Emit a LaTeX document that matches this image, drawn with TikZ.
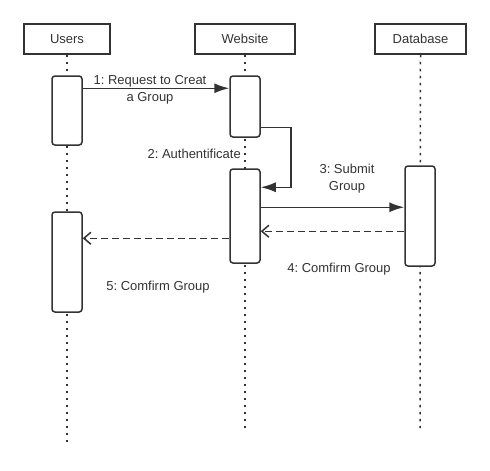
\documentclass[tikz,border=0pt]{standalone}
\usepackage{fontspec}
\setmainfont{Liberation Sans}
\usetikzlibrary{arrows.meta}
\definecolor{ink}{HTML}{333333}
\frenchspacing
\tikzset{
  head/.style={draw=ink, line width=1.5pt, minimum height=30pt, inner sep=0pt, text=ink, font=\fontsize{13}{15}\selectfont},
  act/.style={draw=ink, line width=1.5pt, fill=white, rounded corners=3pt, minimum width=30pt, inner sep=0pt},
  life/.style={draw=ink, line width=1.5pt, dash pattern=on 2.5pt off 4.5pt},
  msg/.style={draw=ink, line width=1.5pt, -{Latex[length=15pt,width=10pt]}},
  reply/.style={draw=ink, line width=1.5pt, dash pattern=on 7pt off 4pt, -{Straight Barb[length=7pt,width=12pt]}},
  lbl/.style={text=ink, align=center, inner sep=0pt, font=\fontsize{13}{16.5}\selectfont}
}
\begin{document}
\begin{tikzpicture}[x=1pt, y=-1pt]
\useasboundingbox (0,0) rectangle (490,471);
%heads
\node[head, minimum width=86pt] (users) at (67,39) {Users};
\node[head, minimum width=100pt] (web) at (245,39) {Website};
\node[head, minimum width=91pt] (db) at (420.5,39) {Database};
%lifelines
\coordinate (uend) at (67,442);
\coordinate (wend) at (245,428);
\coordinate (dend) at (420,428);
\draw[life] (users.south) -- (uend);
\draw[life] (web.south) -- (wend);
\draw[life] (db.south) -- (dend);
%activations
\node[act, minimum height=69pt] (ua1) at (67,110.5) {};
\node[act, minimum height=61pt] (wa1) at (245,106.5) {};
\node[act, minimum height=94pt] (wa2) at (245,216) {};
\node[act, minimum height=100pt] (da1) at (420,216) {};
\node[act, minimum height=100pt] (ua2) at (67,262) {};
%messages
\draw[msg] ([yshift=-13pt]ua1.north east) -- ([yshift=-13pt]wa1.north west);
\draw[msg] ([yshift=-52pt]wa1.north east) -- ++(30pt,0) |- ([yshift=-19pt]wa2.north east);
\draw[msg] ([yshift=-39pt]wa2.north east) -- ([yshift=-42pt]da1.north west);
\draw[reply] ([yshift=-66pt]da1.north west) -- ([yshift=-63pt]wa2.north east);
\draw[reply] ([yshift=-70pt]wa2.north west) -- ([yshift=-27pt]ua2.north east);
%labels
\node[lbl] (l1) at (150,90) {1: Request to Creat\\a Group};
\node[lbl, anchor=east] (l2) at (241,154) {2: Authentificate};
\node[lbl] (l3) at (347,178.5) {3: Submit\\Group};
\node[lbl] (l4) at (339,269.5) {4: Comfirm Group};
\node[lbl] (l5) at (158,287.5) {5: Comfirm Group};
\end{tikzpicture}
\end{document}
